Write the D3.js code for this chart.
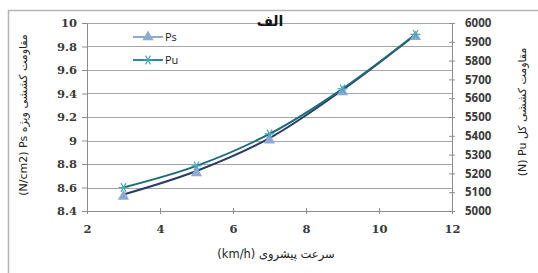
<!DOCTYPE html>
<html>
<head>
<meta charset="utf-8">
<script src="https://cdn.jsdelivr.net/npm/d3@7"></script>
<style>
  body { margin: 0; background: #fff; }
  svg { display: block; }
</style>
</head>
<body>
<div id="chart"></div>
<script>
// data
var speed = [3, 5, 7, 9, 11];
var psValues = [8.54, 8.74, 9.02, 9.43, 9.9];
var puValues = [5125, 5240, 5410, 5650, 5940];
var xTicks = [2, 4, 6, 8, 10, 12];
var yLeftTicks = [8.4, 8.6, 8.8, 9, 9.2, 9.4, 9.6, 9.8, 10];
var yRightTicks = [5000, 5100, 5200, 5300, 5400, 5500, 5600, 5700, 5800, 5900, 6000];

var W = 538, H = 273;
var margin = { left: 87, right: 86, top: 23, bottom: 62 };
var width = W - margin.left - margin.right;
var height = H - margin.top - margin.bottom;

var svg = d3.select("#chart")
    .append("svg")
    .attr("width", W)
    .attr("height", H);

// outer frame (partly off the picture)
svg.append("rect")
    .attr("x", 8.5)
    .attr("y", 10.5)
    .attr("width", 540)
    .attr("height", 280)
    .attr("fill", "none")
    .attr("stroke", "#b5b5b5")
    .attr("stroke-width", 1.5);

var g = svg.append("g")
    .attr("transform", "translate(" + margin.left + ", " + margin.top + ")");

var x = d3.scaleLinear().domain([2, 12]).range([0, width]);
var yL = d3.scaleLinear().domain([8.4, 10]).range([height, 0]);
var yR = d3.scaleLinear().domain([5000, 6000]).range([height, 0]);

// grid lines
g.append("g")
    .selectAll("line")
    .data(yLeftTicks)
    .enter()
    .append("line")
    .attr("x1", 0)
    .attr("x2", width)
    .attr("y1", function(d) { return Math.round(yL(d)) + 0.5; })
    .attr("y2", function(d) { return Math.round(yL(d)) + 0.5; })
    .attr("stroke", "#a6a6a6")
    .attr("stroke-width", 1);

function styleTicks(sel, family, size) {
    sel.selectAll("text")
        .style("font-family", family)
        .style("font-weight", "bold")
        .style("font-size", size)
        .style("fill", "#3a3a3a");
}

// left axis
var yLeftAxis = d3.axisLeft(yL)
    .tickValues(yLeftTicks)
    .tickSize(5)
    .tickPadding(5)
    .tickFormat(function(d) { return d; });
var gl = g.append("g").attr("class", "y-left").call(yLeftAxis);
gl.select(".domain").attr("stroke", "#8c8c8c");
gl.selectAll(".tick line").attr("stroke", "#8c8c8c");
styleTicks(gl, "'DejaVu Serif', serif", "11.5px");

// right axis
var yRightAxis = d3.axisRight(yR)
    .tickValues(yRightTicks)
    .tickSize(3)
    .tickPadding(10)
    .tickFormat(function(d) { return d; });
var gr = g.append("g")
    .attr("class", "y-right")
    .attr("transform", "translate(" + width + ", 0)")
    .call(yRightAxis);
gr.select(".domain").attr("stroke", "#8c8c8c");
gr.selectAll(".tick line").attr("stroke", "#8c8c8c").attr("x1", -3);
styleTicks(gr, "'Open Sans', sans-serif", "11.5px");

// x axis
var xAxis = d3.axisBottom(x)
    .tickValues(xTicks)
    .tickSize(3)
    .tickPadding(11);
var gx = g.append("g")
    .attr("class", "x-axis")
    .attr("transform", "translate(0, " + height + ")")
    .call(xAxis);
gx.select(".domain").attr("stroke", "#8c8c8c");
gx.selectAll(".tick line").attr("stroke", "#8c8c8c").attr("y1", -3);
styleTicks(gx, "'DejaVu Serif', serif", "11.5px");

// lines
var psData = speed.map(function(s, i) { return { x: s, y: yL(psValues[i]) }; });
var puData = speed.map(function(s, i) { return { x: s, y: yR(puValues[i]) }; });

var line = d3.line()
    .x(function(d) { return x(d.x); })
    .y(function(d) { return d.y; })
    .curve(d3.curveCatmullRom);

g.append("path")
    .datum(psData)
    .attr("d", line)
    .attr("fill", "none")
    .attr("stroke", "#2b3a67")
    .attr("stroke-width", 2);

g.append("path")
    .datum(puData)
    .attr("d", line)
    .attr("fill", "none")
    .attr("stroke", "#1e6e78")
    .attr("stroke-width", 2);

// markers
var tri = d3.symbol().type(d3.symbolTriangle).size(55);
var star = d3.symbol().type(d3.symbolAsterisk).size(70);

g.selectAll(".ps-mark")
    .data(psData)
    .enter()
    .append("path")
    .attr("class", "ps-mark")
    .attr("d", tri)
    .attr("transform", function(d) { return "translate(" + x(d.x) + "," + (d.y + 2) + ")"; })
    .attr("fill", "#8ea9d4");

g.selectAll(".pu-mark")
    .data(puData)
    .enter()
    .append("path")
    .attr("class", "pu-mark")
    .attr("d", star)
    .attr("transform", function(d) { return "translate(" + x(d.x) + "," + d.y + ") rotate(30)"; })
    .attr("fill", "none")
    .attr("stroke", "#4aa6bd")
    .attr("stroke-width", 1.2);

// legend
var legend = [
    { name: "Ps", color: "#8ea9d4", sym: tri, fill: "#8ea9d4", stroke: "none" },
    { name: "Pu", color: "#31849b", sym: star, fill: "none", stroke: "#4aa6bd" }
];
var lg = g.selectAll(".legend")
    .data(legend)
    .enter()
    .append("g")
    .attr("class", "legend")
    .attr("transform", function(d, i) { return "translate(46, " + (14 + i * 23) + ")"; });
lg.append("line")
    .attr("x1", 0).attr("x2", 30)
    .attr("stroke", function(d) { return d.color; })
    .attr("stroke-width", 2);
lg.append("path")
    .attr("d", function(d) { return d.sym(); })
    .attr("transform", function(d) { return "translate(15,0)" + (d.name == "Pu" ? " rotate(30)" : ""); })
    .attr("fill", function(d) { return d.fill; })
    .attr("stroke", function(d) { return d.stroke; })
    .attr("stroke-width", 1.2);
lg.append("text")
    .attr("x", 32)
    .attr("dy", "0.35em")
    .style("font-family", "'Open Sans', sans-serif")
    .style("font-size", "11px")
    .style("fill", "#222")
    .text(function(d) { return d.name; });

// title
g.append("text")
    .attr("x", 183)
    .attr("y", 3)
    .attr("text-anchor", "middle")
    .style("font-family", "'DejaVu Sans', sans-serif")
    .style("font-weight", "bold")
    .style("font-size", "14px")
    .style("fill", "#111")
    .text("الف");

// axis labels
g.append("text")
    .attr("x", 189)
    .attr("y", height + 47)
    .attr("text-anchor", "middle")
    .style("font-family", "'DejaVu Sans', sans-serif")
    .style("font-size", "11.5px")
    .style("fill", "#222")
    .text("(km/h) سرعت پیشروی");

g.append("text")
    .attr("transform", "rotate(-90)")
    .attr("x", -height / 2 + 2)
    .attr("y", -60)
    .attr("text-anchor", "middle")
    .style("font-family", "'DejaVu Sans', sans-serif")
    .style("font-size", "11px")
    .style("fill", "#222")
    .text("(N/cm2) Ps مقاومت کششی ویژه");

g.append("text")
    .attr("transform", "rotate(-90)")
    .attr("x", -height / 2 + 5)
    .attr("y", width + 74)
    .attr("text-anchor", "middle")
    .style("font-family", "'DejaVu Sans', sans-serif")
    .style("font-size", "11px")
    .style("fill", "#222")
    .text("(N) Pu مقاومت کششی کل");
</script>
</body>
</html>
